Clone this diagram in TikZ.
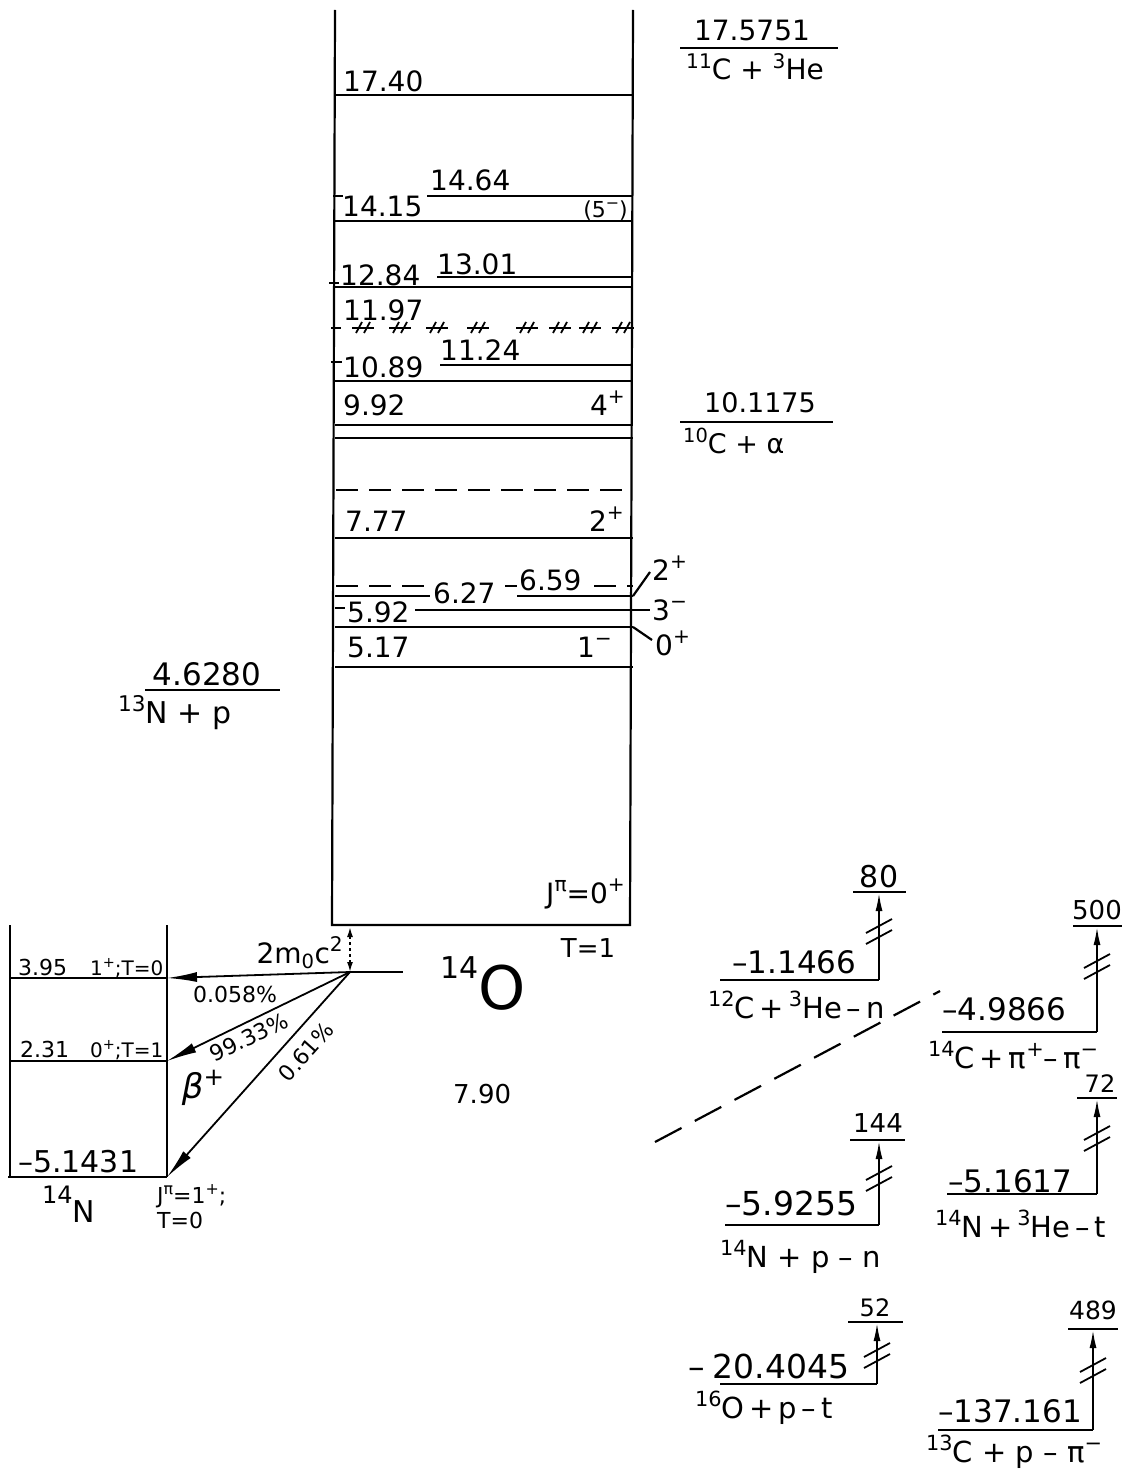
\documentclass[tikz,border=0pt]{standalone}
\usepackage{fontspec}
\setmainfont{DejaVu Sans}
\usetikzlibrary{arrows.meta}
\newcommand\fs[1]{\fontsize{#1}{#1}\selectfont}
\makeatletter
\newcommand\up[1]{\raisebox{0.40em}{\fontsize{\fpeval{0.72*\f@size}}{1}\selectfont #1}}
\makeatother
\newcommand\brkpair[2]{\draw[brk] (#1-13,#2+7)--(#1+13,#2-7); \draw[brk] (#1-13,#2+18)--(#1+13,#2+4);}
\newcommand\hatchmk[1]{\draw[brk] (#1-11,328)--(#1+11,328); \draw[brk] (#1-7,333)--(#1-1,322); \draw[brk] (#1+1,333)--(#1+7,322);}
\begin{document}
\begin{tikzpicture}[x=1pt,y=-1pt,
  every node/.style={inner sep=0pt},
  lv/.style={line width=2.2pt},
  lab/.style={font=\fs{28}},
  labs/.style={font=\fs{22}},
  labl/.style={font=\fs{31}},
  rx/.style={font=\fs{29}},
  beta/.style={line width=1.8pt,-{Latex[length=30pt,width=10pt]}},
  uparr/.style={line width=1.8pt,-{Latex[length=18pt,width=7pt]}},
  brk/.style={line width=1.8pt},
  dsh/.style={line width=2.2pt,dash pattern=on 22pt off 11pt},
]
\useasboundingbox (0,0) rectangle (1125,1477);
% main 14O box
\draw[lv] (335,10) -- (332,925) -- (630,925) -- (633,10);
% 17.40
\draw[lv] (335,95) -- (633,95);
\node[lab,anchor=base west] (l1740) at (343,92) {17.40};
% 14.64 / 14.15
\draw[lv] (427,196) -- (633,196);
\node[lab,anchor=base west] (l1464) at (430,190) {14.64};
\draw[lv] (333,196) -- (343,196);
\draw[lv] (335,221) -- (633,221);
\node[lab,anchor=base west] (l1415) at (342,216) {14.15};
\node[labs,anchor=base east] (j1464) at (628,217) {(5\up{−})};
% 13.01 / 12.84
\draw[lv] (437,277) -- (633,277);
\node[lab,anchor=base west] (l1301) at (437,274) {13.01};
\draw[lv] (333,287) -- (633,287);
\draw[lv] (329,283) -- (339,283);
\node[lab,anchor=base west] (l1284) at (340,285) {12.84};
% 11.97 hatched
\node[lab,anchor=base west] (l1197) at (343,320) {11.97};
\draw[lv] (331,328) -- (341,328);
\hatchmk{363}\hatchmk{400}\hatchmk{437}\hatchmk{478}\hatchmk{527}\hatchmk{560}\hatchmk{590}\hatchmk{623}
% 11.24 / 10.89
\draw[lv] (440,365) -- (633,365);
\node[lab,anchor=base west] (l1124) at (440,360) {11.24};
\draw[lv] (335,381) -- (633,381);
\draw[lv] (331,362) -- (342,362);
\node[lab,anchor=base west] (l1089) at (343,377) {10.89};
% 9.92
\draw[lv] (335,425) -- (633,425);
\draw[lv] (335,438) -- (633,438);
\node[lab,anchor=base west] (l992) at (343,415) {9.92};
\node[lab,anchor=base east] (j992) at (625,415) {4\up{+}};
% dashed level
\draw[dsh] (336,490) -- (633,490);
% 7.77
\draw[lv] (335,538) -- (633,538);
\node[lab,anchor=base west] (l777) at (345,531) {7.77};
\node[lab,anchor=base east] (j777) at (624,531) {2\up{+}};
% 6.59 / 6.27
\draw[dsh] (336,586) -- (430,586);
\draw[lv] (505,586) -- (517,586);
\draw[dsh] (594,586) -- (633,586);
\draw[lv] (335,596) -- (430,596);
\draw[lv] (517,596) -- (633,596);
\node[lab,anchor=base west] (l627) at (433,603) {6.27};
\node[lab,anchor=base west] (l659) at (519,590) {6.59};
\draw[lv] (633,596) -- (650,572);
\node[lab,anchor=base west] (j659) at (652,580) {2\up{+}};
% 5.92
\draw[lv] (415,610) -- (650,610);
\draw[lv] (335,608) -- (345,608);
\node[lab,anchor=base west] (l592) at (347,622) {5.92};
\node[lab,anchor=base west] (j592) at (652,620) {3\up{−}};
% 0+ line
\draw[lv] (335,627) -- (633,627);
\draw[lv] (633,627) -- (652,640);
\node[lab,anchor=base west] (j0p) at (655,655) {0\up{+}};
% 5.17
\draw[lv] (335,667) -- (633,667);
\node[lab,anchor=base west] (l517) at (347,657) {5.17};
\node[lab,anchor=base east] (j517) at (612,657) {1\up{−}};
% ground state labels
\node[lab,anchor=base east] (jgs) at (625,903) {J\up{π}=0\up{+}};
\node[font=\fs{26},anchor=base] (tgs) at (588,957) {T=1};
% ground level & 2m0c2
\coordinate (O) at (350,972);
\coordinate (Oend) at (403,972);
\coordinate (boxb) at (350,927);
\draw[lv] (O) -- (Oend);
\draw[line width=1.6pt,dash pattern=on 3pt off 3pt,{Latex[length=10pt,width=6pt]}-{Latex[length=10pt,width=6pt]}] (boxb) -- (O);
\node[lab,anchor=base east] (mc) at (343,963) {2m\textsubscript{0}c\up{2}};
\node[anchor=base west] (o14) at (440,1009) {\fs{30}\raisebox{31pt}{14}\fs{60}O};
\node[font=\fs{26},anchor=base west] (e790) at (453,1103) {7.90};
% 14N box
\draw[lv] (10,925) -- (10,1177);
\draw[lv] (167,925) -- (167,1177);
\draw[lv] (10,978) -- (167,978);
\draw[lv] (10,1061) -- (167,1061);
\draw[lv] (8,1177) -- (167,1177);
\coordinate (n395) at (167,978);
\coordinate (n231) at (167,1061);
\coordinate (ngs) at (167,1177);
\node[labs,anchor=base west] (l395) at (18,975) {3.95};
\node[font=\fs{20},anchor=base west] (j395) at (90,975) {1\up{+};T=0};
\node[labs,anchor=base west] (l231) at (20,1057) {2.31};
\node[font=\fs{20},anchor=base west] (j231) at (90,1057) {0\up{+};T=1};
\node[font=\fs{30},anchor=base west] (lgsn) at (18,1172) {–5.1431};
\node[anchor=base west] (n14) at (42,1222) {\fs{24}\raisebox{19pt}{14}\fs{30}N};
\node[labs,anchor=base west] (jn) at (157,1203) {J\up{π}=1\up{+};};
\node[labs,anchor=base west] (tn) at (157,1228) {T=0};
% beta decays
\draw[beta] (O) -- (n395);
\draw[beta] (O) -- (n231);
\draw[beta] (O) -- (ngs);
\node[labs,anchor=base west] (p058) at (193,1002) {0.058\%};
\node[labs,rotate=25.7] (p9933) at (249,1037) {99.33\%};
\node[labs,rotate=48.2] (p061) at (306,1052) {0.61\%};
\node[font=\fs{34}] (betap) at (203,1088) {{\itshape β}\up{+}};
% thresholds
\node[lab,anchor=base] (t175) at (752,41) {17.5751};
\draw[lv] (680,48) -- (838,48);
\node[lab,anchor=base west] (r175) at (686,80) {\up{11}C + \up{3}He};
\node[font=\fs{27},anchor=base] (t101) at (760,412) {10.1175};
\draw[lv] (680,422) -- (833,422);
\node[font=\fs{27},anchor=base west] (r101) at (683,453) {\up{10}C + α};
\node[font=\fs{31},anchor=base] (t46) at (207,685) {4.6280};
\draw[lv] (145,690) -- (280,690);
\node[font=\fs{30},anchor=base west] (r46) at (118,723) {\up{13}N + p};
% group 80
\coordinate (a80) at (879,893);
\coordinate (a80b) at (879,980);
\coordinate (a80l) at (720,980);
\draw[lv] (853,892) -- (906,892);
\node[font=\fs{30},anchor=base] (n80) at (879,887) {80};
\draw[uparr] (a80b) -- (a80);
\brkpair{879}{926}
\draw[lv] (a80l) -- (a80b);
\node[labl,anchor=base west] (v80) at (732,973) {–1.1466};
\node[rx,anchor=base west] (r80) at (708,1018) {\up{12}C\,+\,\up{3}He\,–\,n};
% group 500
\coordinate (a500) at (1097,927);
\coordinate (a500b) at (1097,1032);
\coordinate (a500l) at (942,1032);
\draw[lv] (1073,926) -- (1122,926);
\node[font=\fs{26},anchor=base] (n500) at (1097,919) {500};
\draw[uparr] (a500b) -- (a500);
\brkpair{1097}{961}
\draw[lv] (a500l) -- (a500b);
\node[labl,anchor=base west] (v500) at (942,1020) {–4.9866};
\node[rx,anchor=base west] (r500) at (928,1068) {\up{14}C\,+\,π\up{+}–\,π\up{−}};
% group 72
\coordinate (a72) at (1097,1099);
\coordinate (a72b) at (1097,1194);
\coordinate (a72l) at (947,1194);
\draw[lv] (1077,1098) -- (1117,1098);
\node[font=\fs{24},anchor=base] (n72) at (1100,1092) {72};
\draw[uparr] (a72b) -- (a72);
\brkpair{1097}{1133}
\draw[lv] (a72l) -- (a72b);
\node[labl,anchor=base west] (v72) at (948,1192) {–5.1617};
\node[rx,anchor=base west] (r72) at (935,1237) {\up{14}N\,+\,\up{3}He\,–\,t};
% group 144
\coordinate (a144) at (879,1141);
\coordinate (a144b) at (879,1225);
\coordinate (a144l) at (725,1225);
\draw[lv] (850,1140) -- (905,1140);
\node[font=\fs{26},anchor=base] (n144) at (878,1132) {144};
\draw[uparr] (a144b) -- (a144);
\brkpair{879}{1173}
\draw[lv] (a144l) -- (a144b);
\node[font=\fs{33},anchor=base west] (v144) at (725,1215) {–5.9255};
\node[rx,anchor=base west] (r144) at (720,1267) {\up{14}N + p – n};
% group 52
\coordinate (a52) at (877,1323);
\coordinate (a52b) at (877,1384);
\coordinate (a52l) at (720,1384);
\draw[lv] (848,1322) -- (903,1322);
\node[font=\fs{24},anchor=base] (n52) at (875,1316) {52};
\draw[uparr] (a52b) -- (a52);
\brkpair{877}{1350}
\draw[lv] (a52l) -- (a52b);
\node[font=\fs{33},anchor=base west] (v52) at (688,1378) {–\hspace{8pt}20.4045};
\node[rx,anchor=base west] (r52) at (695,1418) {\up{16}O\,+\,p\,–\,t};
% group 489
\coordinate (a489) at (1093,1330);
\coordinate (a489b) at (1093,1430);
\coordinate (a489l) at (938,1430);
\draw[lv] (1068,1329) -- (1118,1329);
\node[font=\fs{25},anchor=base] (n489) at (1093,1319) {489};
\draw[uparr] (a489b) -- (a489);
\brkpair{1093}{1365}
\draw[lv] (a489l) -- (a489b);
\node[labl,anchor=base west] (v489) at (938,1422) {–137.161};
\node[rx,anchor=base west] (r489) at (926,1462) {\up{13}C + p – π\up{−}};
% dashed diagonal
\coordinate (d1) at (655,1142);
\coordinate (d2) at (940,991);
\draw[line width=2.2pt,dash pattern=on 30pt off 15pt] (d1) -- (d2);
\end{tikzpicture}
\end{document}
